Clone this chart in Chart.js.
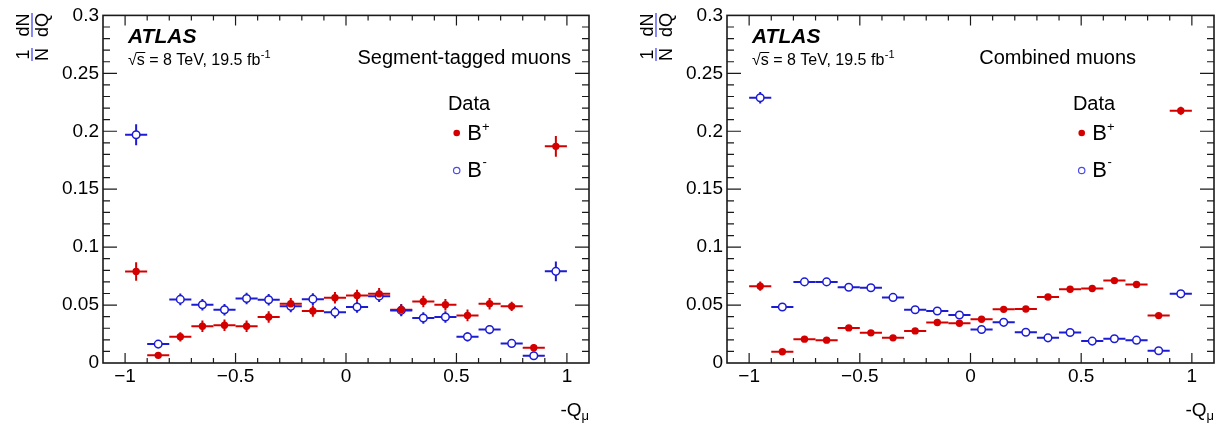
<!DOCTYPE html>
<html>
<head>
<meta charset="utf-8">
<script src="https://cdn.jsdelivr.net/npm/chart.js@4"></script>
<style>
  body { margin: 0; background: #fff; }
  #wrap { position: relative; width: 1220px; height: 428px; }
  .panel { position: absolute; top: 0; width: 610px; height: 428px; }
</style>
</head>
<body>
<div id="wrap">
  <div class="panel" style="left:0"><canvas id="seg-chart" width="610" height="428"></canvas></div>
  <div class="panel" style="left:610px"><canvas id="comb-chart" width="610" height="428"></canvas></div>
</div>
<script>
// bin centres of -Q_mu (bin width 0.1)
const binCenters = [-0.95, -0.85, -0.75, -0.65, -0.55, -0.45, -0.35, -0.25, -0.15, -0.05,
                    0.05, 0.15, 0.25, 0.35, 0.45, 0.55, 0.65, 0.75, 0.85, 0.95];
const binWidth = 0.1;

// Segment-tagged muons
const segPlus = [0.079, 0.0066, 0.0226, 0.0317, 0.0326, 0.0317, 0.0397, 0.0512, 0.0449, 0.0563,
                 0.0583, 0.0597, 0.046, 0.0531, 0.0503, 0.0411, 0.0512, 0.0489, 0.0131, 0.187];
const segPlusErr = [0.008, 0.002, 0.004, 0.005, 0.005, 0.005, 0.005, 0.005, 0.005, 0.005,
                    0.005, 0.005, 0.005, 0.005, 0.005, 0.005, 0.005, 0.004, 0.003, 0.009];
const segMinus = [0.197, 0.0163, 0.0549, 0.0503, 0.046, 0.0557, 0.0546, 0.0489, 0.0551, 0.0437,
                  0.0483, 0.0577, 0.0454, 0.0389, 0.0397, 0.0226, 0.0289, 0.0169, 0.0063, 0.0791];
const segMinusErr = [0.009, 0.003, 0.005, 0.005, 0.005, 0.005, 0.005, 0.005, 0.005, 0.005,
                     0.005, 0.005, 0.005, 0.005, 0.005, 0.004, 0.004, 0.003, 0.002, 0.0085];

// Combined muons
const combPlus = [0.0663, 0.0097, 0.0206, 0.0197, 0.0303, 0.026, 0.0217, 0.0277, 0.0349, 0.0343,
                  0.0377, 0.0463, 0.0466, 0.0569, 0.0637, 0.0643, 0.0711, 0.0677, 0.0409, 0.2177];
const combPlusErr = [0.004, 0.0015, 0.0015, 0.0015, 0.0015, 0.0015, 0.0015, 0.0015, 0.0015, 0.0015,
                     0.0015, 0.0015, 0.0015, 0.0015, 0.0015, 0.0015, 0.0015, 0.0015, 0.0015, 0.0035];
const combMinus = [0.2289, 0.0483, 0.070, 0.070, 0.0654, 0.065, 0.0566, 0.046, 0.0449, 0.0414,
                   0.0289, 0.0351, 0.0266, 0.0217, 0.0263, 0.0189, 0.0209, 0.0197, 0.0106, 0.0597];
const combMinusErr = [0.005, 0.0015, 0.0015, 0.0015, 0.0015, 0.0015, 0.0015, 0.0015, 0.0015, 0.0015,
                      0.0015, 0.0015, 0.0015, 0.0015, 0.0015, 0.0015, 0.0015, 0.0015, 0.0015, 0.0015];

// tick labels
const xTickValues = [-1, -0.5, 0, 0.5, 1];
const yTickValues = [0, 0.05, 0.1, 0.15, 0.2, 0.25, 0.3];

const FONT = '"Liberation Sans", Arial, Helvetica, sans-serif';
const RED = '#d40000';
const BLUE = '#1c1cd4';

function pontos(vals, errs) {
    return binCenters.map((x, i) => ({ x: x, y: vals[i], e: errs[i] }));
}

function fmtTick(v) {
    return v < 0 ? '\u2212' + Math.abs(v) : String(v);
}

// desenha barras de erro, moldura estilo ROOT e textos
const atlasPlugin = {
    id: 'atlasPlugin',
    beforeDatasetsDraw(chart) {
        const ctx = chart.ctx;
        const xs = chart.scales.x, ys = chart.scales.y;
        ctx.save();
        ctx.lineWidth = 2;
        chart.data.datasets.forEach(ds => {
            ctx.strokeStyle = ds.borderColor;
            ds.data.forEach(p => {
                const px = xs.getPixelForValue(p.x);
                const py = ys.getPixelForValue(p.y);
                ctx.beginPath();
                ctx.moveTo(xs.getPixelForValue(p.x - binWidth / 2), py);
                ctx.lineTo(xs.getPixelForValue(p.x + binWidth / 2), py);
                ctx.moveTo(px, ys.getPixelForValue(p.y - p.e));
                ctx.lineTo(px, ys.getPixelForValue(p.y + p.e));
                ctx.stroke();
            });
        });
        ctx.restore();
    },
    afterDraw(chart, args, opts) {
        const ctx = chart.ctx;
        const a = chart.chartArea;
        const xs = chart.scales.x, ys = chart.scales.y;
        ctx.save();

        // moldura
        ctx.strokeStyle = '#1a1a1a';
        ctx.lineWidth = 1.6;
        ctx.strokeRect(a.left, a.top, a.right - a.left, a.bottom - a.top);

        // ticks para dentro
        ctx.lineWidth = 1.2;
        ctx.beginPath();
        for (let k = -10; k <= 10; k++) {
            const px = xs.getPixelForValue(k / 10);
            const len = (k % 5 === 0) ? 10 : 5;
            ctx.moveTo(px, a.bottom); ctx.lineTo(px, a.bottom - len);
            ctx.moveTo(px, a.top); ctx.lineTo(px, a.top + len);
        }
        for (let k = 1; k < 30; k++) {
            const py = ys.getPixelForValue(k / 100);
            const len = (k % 5 === 0) ? 14 : 7;
            ctx.moveTo(a.left, py); ctx.lineTo(a.left + len, py);
            ctx.moveTo(a.right, py); ctx.lineTo(a.right - len, py);
        }
        ctx.stroke();

        ctx.fillStyle = '#000';
        ctx.textBaseline = 'alphabetic';

        // ATLAS
        ctx.textAlign = 'left';
        ctx.font = 'italic bold 21px ' + FONT;
        ctx.fillText('ATLAS', a.left + 25, 43);

        // sqrt(s) = 8 TeV, 19.5 fb-1
        let x0 = a.left + 25;
        ctx.font = '16px ' + FONT;
        ctx.fillText('\u221A', x0, 65);
        x0 += ctx.measureText('\u221A').width;
        const ws = ctx.measureText('s').width;
        ctx.fillText('s', x0, 65);
        ctx.lineWidth = 1;
        ctx.beginPath();
        ctx.moveTo(x0 - 0.5, 52.5); ctx.lineTo(x0 + ws + 0.5, 52.5);
        ctx.strokeStyle = '#000';
        ctx.stroke();
        x0 += ws;
        const resto = ' = 8 TeV, 19.5 fb';
        ctx.fillText(resto, x0, 65);
        x0 += ctx.measureText(resto).width;
        ctx.font = '11px ' + FONT;
        ctx.fillText('-1', x0 + 0.5, 58);

        // título do painel
        ctx.textAlign = 'right';
        ctx.font = '20px ' + FONT;
        ctx.fillText(opts.title, a.right - opts.titleOffset, 64);

        // legenda
        const lx = a.right - 132.3;
        ctx.textAlign = 'center';
        ctx.fillText('Data', a.right - 120, 110);
        ctx.beginPath();
        ctx.fillStyle = RED;
        ctx.arc(lx, 133, 3.3, 0, Math.PI * 2);
        ctx.fill();
        ctx.beginPath();
        ctx.strokeStyle = '#4a4aee';
        ctx.lineWidth = 1.2;
        ctx.arc(lx, 170.5, 3.2, 0, Math.PI * 2);
        ctx.stroke();
        ctx.fillStyle = '#000';
        ctx.textAlign = 'left';
        const bx = a.right - 121.7;
        ctx.font = '22px ' + FONT;
        ctx.fillText('B', bx, 140);
        ctx.fillText('B', bx, 177);
        const wb = ctx.measureText('B').width;
        ctx.font = '13px ' + FONT;
        ctx.fillText('+', bx + wb, 131);
        ctx.fillText('-', bx + wb + 0.5, 166);

        // título do eixo x: -Q_mu
        ctx.font = '13px ' + FONT;
        const wmu = ctx.measureText('\u03BC').width;
        ctx.fillText('\u03BC', a.right - wmu, 420);
        ctx.textAlign = 'right';
        ctx.font = '19px ' + FONT;
        ctx.fillText('-Q', a.right - wmu, 416);

        // título do eixo y: (1/N) dN/dQ, girado
        ctx.translate(a.left - 71, 62);
        ctx.rotate(-Math.PI / 2);
        ctx.font = '18px ' + FONT;
        ctx.textAlign = 'center';
        ctx.fillText('1', 7.5, -3);
        ctx.fillText('N', 7.5, 16);
        ctx.fillText('dN', 37, -3);
        ctx.fillText('dQ', 37, 16);
        ctx.lineWidth = 1.3;
        ctx.beginPath();
        ctx.moveTo(1, 0); ctx.lineTo(14, 0);
        ctx.moveTo(25, 0); ctx.lineTo(49, 0);
        ctx.stroke();

        ctx.restore();
    }
};

function criarGrafico(canvasId, plusVals, plusErr, minusVals, minusErr, cfg) {
    const ctx = document.getElementById(canvasId).getContext('2d');
    return new Chart(ctx, {
        type: 'scatter',
        data: {
            datasets: [{
                label: 'B+',
                data: pontos(plusVals, plusErr),
                borderColor: RED,
                backgroundColor: RED,
                pointRadius: 3.7,
                pointBorderWidth: 0,
                showLine: false
            }, {
                label: 'B-',
                data: pontos(minusVals, minusErr),
                borderColor: BLUE,
                backgroundColor: '#ffffff',
                pointRadius: 3.8,
                pointBorderWidth: 1.5,
                showLine: false
            }]
        },
        options: {
            responsive: false,
            animation: false,
            events: [],
            layout: {
                padding: { left: 0, right: cfg.padRight, top: 13, bottom: 0 }
            },
            plugins: {
                legend: { display: false },
                tooltip: { enabled: false },
                atlasPlugin: { title: cfg.title, titleOffset: cfg.titleOffset }
            },
            scales: {
                x: {
                    type: 'linear',
                    min: -1.1,
                    max: 1.1,
                    afterBuildTicks: s => { s.ticks = xTickValues.map(v => ({ value: v })); },
                    afterFit: s => { s.height = 65; },
                    ticks: {
                        callback: fmtTick,
                        font: { family: FONT, size: 19 },
                        color: '#000',
                        padding: 2,
                        maxRotation: 0,
                        autoSkip: false
                    },
                    grid: { display: false, drawTicks: false },
                    border: { display: false }
                },
                y: {
                    min: 0,
                    max: 0.3,
                    afterBuildTicks: s => { s.ticks = yTickValues.map(v => ({ value: v })); },
                    afterFit: s => { s.width = cfg.yWidth; },
                    ticks: {
                        callback: fmtTick,
                        font: { family: FONT, size: 19 },
                        color: '#000',
                        padding: 4,
                        autoSkip: false
                    },
                    grid: { display: false, drawTicks: false },
                    border: { display: false }
                }
            }
        },
        plugins: [atlasPlugin]
    });
}

criarGrafico('seg-chart', segPlus, segPlusErr, segMinus, segMinusErr,
    { title: 'Segment-tagged muons', titleOffset: 18, yWidth: 103, padRight: 21 });
criarGrafico('comb-chart', combPlus, combPlusErr, combMinus, combMinusErr,
    { title: 'Combined muons', titleOffset: 78, yWidth: 117, padRight: 6 });
</script>
</body>
</html>
